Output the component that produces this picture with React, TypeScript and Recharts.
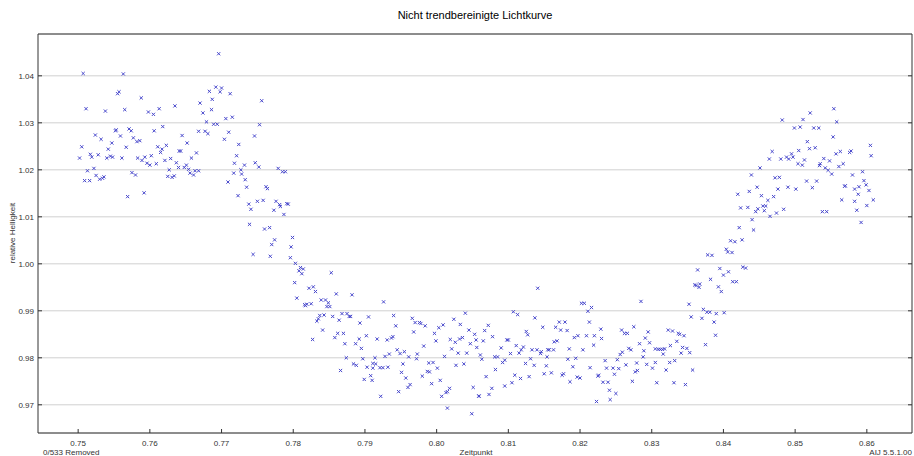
import React from 'react';
import {
  CartesianGrid,
  Scatter,
  ScatterChart,
  XAxis,
  YAxis} from 'recharts';

// Messpunkte [Zeitpunkt, relative Helligkeit], nach Abschnitt der Lichtkurve
const vorTransit: [number, number][] = [
  [0.7507,1.0405],[0.7563,1.0404],[0.7555,1.0362],[0.7557,1.0366],[0.7588,1.0353],[0.7511,1.0330],[0.7538,1.0325],[0.7565,1.0328],
  [0.7598,1.0323],[0.7605,1.0318],[0.7613,1.0330],[0.7635,1.0336],[0.7670,1.0342],[0.7683,1.0367],[0.7687,1.0350],[0.7674,1.0321],
  [0.7686,1.0328],[0.7679,1.0302],[0.7552,1.0283],[0.7553,1.0285],[0.7571,1.0287],[0.7574,1.0283],[0.7606,1.0283],[0.7618,1.0292],
  [0.7524,1.0274],[0.7532,1.0265],[0.7559,1.0272],[0.7577,1.0268],[0.7582,1.0260],[0.7586,1.0262],[0.7547,1.0257],[0.7505,1.0249],
  [0.7542,1.0244],[0.7567,1.0248],[0.7611,1.0249],[0.7617,1.0244],[0.7623,1.0252],[0.7615,1.0237],[0.7641,1.0240],[0.7643,1.0240],
  [0.7652,1.0257],[0.7645,1.0273],[0.7668,1.0282],[0.7677,1.0282],[0.7681,1.0277],[0.7665,1.0236],[0.7502,1.0225],[0.7517,1.0233],
  [0.7519,1.0227],[0.7528,1.0232],[0.7540,1.0225],[0.7545,1.0229],[0.7548,1.0227],[0.7561,1.0225],[0.7583,1.0225],[0.7589,1.0220],
  [0.7593,1.0227],[0.7596,1.0214],[0.7602,1.0230],[0.7600,1.0210],[0.7609,1.0213],[0.7621,1.0220],[0.7629,1.0224],[0.7637,1.0215],
  [0.7640,1.0205],[0.7648,1.0205],[0.7651,1.0210],[0.7654,1.0201],[0.7658,1.0225],[0.7627,1.0200],[0.7656,1.0193],[0.7661,1.0189],
  [0.7663,1.0198],[0.7668,1.0198],[0.7513,1.0198],[0.7522,1.0203],[0.7525,1.0188],[0.7530,1.0180],[0.7534,1.0182],[0.7536,1.0185],
  [0.7509,1.0177],[0.7516,1.0177],[0.7575,1.0194],[0.7580,1.0189],[0.7625,1.0186],[0.7631,1.0184],[0.7634,1.0187],[0.7569,1.0143],
  [0.7592,1.0151],
];

const eintritt: [number, number][] = [
  [0.7696,1.0447],[0.7692,1.0376],[0.7700,1.0374],[0.7698,1.0366],[0.7712,1.0362],[0.7756,1.0347],[0.7706,1.0309],[0.7715,1.0312],
  [0.7689,1.0297],[0.7694,1.0297],[0.7753,1.0296],[0.7710,1.0280],[0.7746,1.0272],[0.7704,1.0265],[0.7724,1.0254],[0.7721,1.0230],
  [0.7718,1.0214],[0.7732,1.0210],[0.7747,1.0215],[0.7752,1.0206],[0.7727,1.0200],[0.7728,1.0191],[0.7717,1.0193],[0.7779,1.0203],
  [0.7785,1.0196],[0.7789,1.0196],[0.7733,1.0179],[0.7709,1.0174],[0.7735,1.0163],[0.7762,1.0164],[0.7764,1.0160],[0.7723,1.0145],
  [0.7738,1.0127],[0.7741,1.0116],[0.7750,1.0133],[0.7758,1.0135],[0.7776,1.0133],[0.7781,1.0126],[0.7782,1.0122],[0.7791,1.0128],
  [0.7793,1.0127],[0.7773,1.0114],[0.7787,1.0105],[0.7739,1.0084],[0.7760,1.0074],[0.7767,1.0077],[0.7774,1.0051],[0.7770,1.0041],
  [0.7799,1.0056],[0.7797,1.0036],[0.7744,1.0020],[0.7768,1.0016],[0.7796,1.0013],[0.7803,1.0001],[0.7810,0.9992],[0.7814,0.9989],
  [0.7808,0.9985],[0.7812,0.9979],[0.7853,0.9981],[0.7802,0.9960],[0.7822,0.9948],[0.7828,0.9951],[0.7831,0.9941],[0.7860,0.9936],
  [0.7805,0.9927],[0.7816,0.9913],[0.7819,0.9914],[0.7825,0.9915],[0.7817,0.9911],[0.7839,0.9923],[0.7845,0.9923],[0.7847,0.9909],
  [0.7851,0.9909],[0.7849,0.9917],[0.7837,0.9890],[0.7843,0.9891],[0.7835,0.9883],[0.7833,0.9878],[0.7855,0.9888],[0.7868,0.9894],
  [0.7864,0.9880],[0.7841,0.9859],[0.7827,0.9839],[0.7858,0.9843],[0.7862,0.9852],[0.7870,0.9852],[0.7872,0.9830],[0.7874,0.9800],
  [0.7866,0.9773],
];

const boden1: [number, number][] = [
  [0.7882,0.9934],[0.7926,0.9919],[0.7875,0.9894],[0.7878,0.9888],[0.7880,0.9888],[0.7893,0.9874],[0.7905,0.9887],[0.7940,0.9890],
  [0.7966,0.9884],[0.7970,0.9875],[0.7976,0.9875],[0.7978,0.9873],[0.7984,0.9868],[0.7943,0.9868],[0.7968,0.9855],[0.7997,0.9852],
  [0.8003,0.9864],[0.8009,0.9870],[0.8024,0.9882],[0.8033,0.9871],[0.8040,0.9895],[0.8045,0.9859],[0.8053,0.9850],[0.7999,0.9836],
  [0.8019,0.9839],[0.8026,0.9833],[0.8032,0.9840],[0.8036,0.9843],[0.8047,0.9830],[0.8055,0.9838],[0.8056,0.9822],[0.7887,0.9830],
  [0.7892,0.9840],[0.7895,0.9820],[0.7902,0.9847],[0.7917,0.9840],[0.7931,0.9838],[0.7937,0.9842],[0.7939,0.9845],[0.7982,0.9825],
  [0.8021,0.9819],[0.8030,0.9810],[0.8042,0.9810],[0.7897,0.9798],[0.7914,0.9800],[0.7928,0.9803],[0.7934,0.9808],[0.7945,0.9817],
  [0.7949,0.9809],[0.7955,0.9813],[0.7961,0.9802],[0.7973,0.9808],[0.7972,0.9798],[0.8011,0.9803],[0.7884,0.9787],[0.7888,0.9784],
  [0.7903,0.9780],[0.7911,0.9788],[0.7915,0.9787],[0.7911,0.9778],[0.7921,0.9779],[0.7925,0.9779],[0.7932,0.9780],[0.7953,0.9787],
  [0.7951,0.9769],[0.7989,0.9789],[0.7995,0.9790],[0.8001,0.9778],[0.7987,0.9771],[0.7990,0.9770],[0.7980,0.9761],[0.8038,0.9787],
  [0.8027,0.9784],[0.7899,0.9754],[0.7908,0.9762],[0.7910,0.9752],[0.7957,0.9757],[0.7963,0.9743],[0.7960,0.9737],[0.7993,0.9745],
  [0.8005,0.9752],[0.8018,0.9735],[0.8015,0.9728],[0.8013,0.9726],[0.8007,0.9718],[0.7947,0.9728],[0.7922,0.9718],[0.8051,0.9737],
  [0.8059,0.9718],[0.8015,0.9693],[0.8049,0.9681],
];

const boden2: [number, number][] = [
  [0.8141,0.9948],[0.8202,0.9916],[0.8206,0.9916],[0.8211,0.9899],[0.8216,0.9907],[0.8107,0.9898],[0.8113,0.9892],[0.8137,0.9885],
  [0.8072,0.9869],[0.8067,0.9858],[0.8078,0.9845],[0.8065,0.9836],[0.8100,0.9838],[0.8098,0.9838],[0.8125,0.9856],[0.8127,0.9849],
  [0.8148,0.9865],[0.8166,0.9865],[0.8171,0.9876],[0.8179,0.9876],[0.8173,0.9859],[0.8182,0.9858],[0.8192,0.9843],[0.8197,0.9847],
  [0.8209,0.9847],[0.8213,0.9876],[0.8229,0.9861],[0.8220,0.9847],[0.8230,0.9841],[0.8219,0.9827],[0.8061,0.9806],[0.8063,0.9797],
  [0.8090,0.9821],[0.8085,0.9802],[0.8081,0.9802],[0.8092,0.9790],[0.8095,0.9795],[0.8103,0.9809],[0.8111,0.9826],[0.8121,0.9823],
  [0.8118,0.9817],[0.8115,0.9810],[0.8133,0.9817],[0.8140,0.9817],[0.8146,0.9813],[0.8145,0.9809],[0.8155,0.9817],[0.8157,0.9817],
  [0.8163,0.9817],[0.8164,0.9834],[0.8168,0.9836],[0.8185,0.9819],[0.8204,0.9817],[0.8154,0.9802],[0.8131,0.9798],[0.8124,0.9788],
  [0.8136,0.9784],[0.8153,0.9783],[0.8183,0.9797],[0.8194,0.9799],[0.8190,0.9781],[0.8214,0.9779],[0.8237,0.9778],[0.8235,0.9794],
  [0.8082,0.9775],[0.8069,0.9760],[0.8109,0.9763],[0.8117,0.9756],[0.8129,0.9760],[0.8150,0.9766],[0.8160,0.9768],[0.8175,0.9763],
  [0.8177,0.9766],[0.8186,0.9749],[0.8196,0.9759],[0.8200,0.9757],[0.8226,0.9763],[0.8225,0.9761],[0.8232,0.9748],[0.8239,0.9748],
  [0.8241,0.9731],[0.8095,0.9740],[0.8105,0.9747],[0.8077,0.9735],[0.8073,0.9722],[0.8059,0.9719],[0.8223,0.9707],[0.8242,0.9711],
];

const austritt: [number, number][] = [
  [0.8420,1.0148],[0.8424,1.0119],[0.8422,1.0077],[0.8410,1.0049],[0.8416,1.0047],[0.8426,1.0051],[0.8404,1.0031],[0.8406,1.0025],
  [0.8412,1.0024],[0.8378,1.0019],[0.8384,1.0018],[0.8427,0.9993],[0.8364,0.9987],[0.8395,0.9990],[0.8407,0.9983],[0.8400,0.9976],
  [0.8382,0.9967],[0.8360,0.9955],[0.8362,0.9954],[0.8367,0.9957],[0.8366,0.9950],[0.8393,0.9951],[0.8397,0.9941],[0.8413,0.9962],
  [0.8418,0.9962],[0.8285,0.9920],[0.8352,0.9914],[0.8372,0.9903],[0.8377,0.9897],[0.8381,0.9897],[0.8390,0.9894],[0.8401,0.9896],
  [0.8355,0.9887],[0.8370,0.9884],[0.8387,0.9876],[0.8275,0.9866],[0.8258,0.9859],[0.8262,0.9852],[0.8266,0.9852],[0.8295,0.9855],
  [0.8323,0.9859],[0.8329,0.9857],[0.8337,0.9852],[0.8339,0.9850],[0.8345,0.9847],[0.8389,0.9848],[0.8291,0.9842],[0.8283,0.9830],
  [0.8297,0.9832],[0.8335,0.9835],[0.8326,0.9826],[0.8268,0.9820],[0.8271,0.9817],[0.8259,0.9812],[0.8256,0.9807],[0.8289,0.9815],
  [0.8288,0.9802],[0.8305,0.9819],[0.8309,0.9818],[0.8312,0.9818],[0.8315,0.9818],[0.8318,0.9819],[0.8316,0.9808],[0.8343,0.9822],
  [0.8349,0.9820],[0.8341,0.9810],[0.8353,0.9811],[0.8375,0.9828],[0.8252,0.9796],[0.8264,0.9785],[0.8279,0.9789],[0.8293,0.9786],
  [0.8305,0.9790],[0.8325,0.9790],[0.8332,0.9794],[0.8246,0.9778],[0.8254,0.9777],[0.8301,0.9778],[0.8277,0.9770],[0.8280,0.9773],
  [0.8320,0.9774],[0.8357,0.9774],[0.8248,0.9765],[0.8273,0.9750],[0.8307,0.9747],[0.8331,0.9747],[0.8347,0.9743],[0.8250,0.9724],
];

const nachTransit: [number, number][] = [
  [0.8554,1.0330],[0.8521,1.0321],[0.8482,1.0306],[0.8511,1.0307],[0.8558,1.0302],[0.8499,1.0289],[0.8507,1.0291],[0.8526,1.0289],
  [0.8533,1.0289],[0.8553,1.0270],[0.8517,1.0260],[0.8520,1.0245],[0.8528,1.0247],[0.8605,1.0252],[0.8606,1.0230],[0.8468,1.0239],
  [0.8464,1.0223],[0.8480,1.0223],[0.8488,1.0227],[0.8491,1.0223],[0.8495,1.0234],[0.8497,1.0227],[0.8505,1.0241],[0.8513,1.0221],
  [0.8504,1.0213],[0.8510,1.0210],[0.8535,1.0213],[0.8534,1.0209],[0.8540,1.0224],[0.8548,1.0219],[0.8557,1.0234],[0.8563,1.0239],
  [0.8576,1.0237],[0.8578,1.0240],[0.8567,1.0213],[0.8561,1.0207],[0.8542,1.0204],[0.8546,1.0199],[0.8551,1.0191],[0.8451,1.0204],
  [0.8439,1.0189],[0.8472,1.0183],[0.8478,1.0184],[0.8516,1.0176],[0.8530,1.0176],[0.8580,1.0189],[0.8594,1.0196],[0.8596,1.0177],
  [0.8599,1.0168],[0.8589,1.0164],[0.8603,1.0156],[0.8583,1.0159],[0.8588,1.0148],[0.8609,1.0136],[0.8570,1.0166],[0.8569,1.0165],
  [0.8447,1.0163],[0.8436,1.0154],[0.8476,1.0159],[0.8490,1.0163],[0.8501,1.0159],[0.8524,1.0162],[0.8453,1.0145],[0.8470,1.0143],
  [0.8462,1.0135],[0.8565,1.0136],[0.8583,1.0133],[0.8600,1.0124],[0.8586,1.0114],[0.8538,1.0111],[0.8544,1.0111],[0.8434,1.0120],
  [0.8448,1.0117],[0.8445,1.0111],[0.8455,1.0123],[0.8459,1.0123],[0.8457,1.0113],[0.8484,1.0116],[0.8474,1.0108],[0.8465,1.0101],
  [0.8440,1.0094],[0.8442,1.0072],[0.8431,0.9991],[0.8592,1.0088],
];

const xTicks = [0.75, 0.76, 0.77, 0.78, 0.79, 0.80, 0.81, 0.82, 0.83, 0.84, 0.85, 0.86];
const yTicks = [0.97, 0.98, 0.99, 1.00, 1.01, 1.02, 1.03, 1.04];

const punkte = [...vorTransit, ...eintritt, ...boden1, ...boden2, ...austritt, ...nachTransit]
  .map(([t, v]) => ({ t, v }));

const xBereich: [number, number] = [0.7444, 0.8663];
const yBereich: [number, number] = [0.964, 1.0489];

const achse = '#333';
const schrift = 'Liberation Sans, Arial, sans-serif';

const Kreuz = (props: any) => {
  const { cx, cy } = props;
  const s = 1.6;
  return (
    <path
      d={`M${cx - s},${cy - s}L${cx + s},${cy + s}M${cx - s},${cy + s}L${cx + s},${cy - s}`}
      stroke="#4848cc"
      strokeWidth={1}
      fill="none"
    />
  );
};

const UntenTick = (props: any) => {
  const { x, y, payload } = props;
  return (
    <g>
      <line x1={x} x2={x} y1={y} y2={y - 4} stroke={achse} />
      <text x={x} y={y + 13} textAnchor="middle" fontSize={8} fill="#333" fontFamily={schrift}>
        {payload.value.toFixed(2)}
      </text>
    </g>
  );
};

const ObenTick = (props: any) => {
  const { x, y } = props;
  return <line x1={x} x2={x} y1={y} y2={y + 4} stroke={achse} />;
};

const LinksTick = (props: any) => {
  const { x, y, payload } = props;
  return (
    <g>
      <line x1={x} x2={x + 4} y1={y} y2={y} stroke={achse} />
      <text x={x - 4} y={y + 3} textAnchor="end" fontSize={8} fill="#333" fontFamily={schrift}>
        {payload.value.toFixed(2)}
      </text>
    </g>
  );
};

const RechtsTick = (props: any) => {
  const { x, y } = props;
  return <line x1={x - 4} x2={x} y1={y} y2={y} stroke={achse} />;
};

export default function App() {
  return (
    <div style={{ position: 'absolute', left: 0, top: 0, width: 914, height: 456, background: '#fff' }}>
      <ScatterChart width={914} height={456} margin={{ top: 33, right: 1, bottom: 22, left: 37 }}>
        <CartesianGrid vertical={false} stroke="#d0d0d0" />
        <XAxis
          type="number"
          dataKey="t"
          domain={xBereich}
          ticks={xTicks}
          interval={0}
          allowDataOverflow
          height={1}
          tickSize={0}
          tickMargin={0}
          axisLine={{ stroke: achse }}
          tickLine={false}
          tick={UntenTick}
        />
        <XAxis
          xAxisId="oben"
          orientation="top"
          type="number"
          domain={xBereich}
          ticks={xTicks}
          interval={0}
          allowDataOverflow
          height={1}
          tickSize={0}
          tickMargin={0}
          axisLine={{ stroke: achse }}
          tickLine={false}
          tick={ObenTick}
        />
        <YAxis
          type="number"
          dataKey="v"
          domain={yBereich}
          ticks={yTicks}
          interval={0}
          allowDataOverflow
          width={1}
          tickSize={0}
          tickMargin={0}
          axisLine={{ stroke: achse }}
          tickLine={false}
          tick={LinksTick}
        />
        <YAxis
          yAxisId="rechts"
          orientation="right"
          type="number"
          domain={yBereich}
          ticks={yTicks}
          interval={0}
          allowDataOverflow
          width={1}
          tickSize={0}
          tickMargin={0}
          axisLine={{ stroke: achse }}
          tickLine={false}
          tick={RechtsTick}
        />
        <Scatter data={punkte} shape={Kreuz} isAnimationActive={false} />
      </ScatterChart>
      <svg
        width={914}
        height={456}
        style={{ position: 'absolute', left: 0, top: 0, pointerEvents: 'none' }}
        fontFamily={schrift}
      >
        <text x={475} y={19} textAnchor="middle" fontSize={11} fill="#000">
          Nicht trendbereinigte Lichtkurve
        </text>
        <text x={15} y={233} textAnchor="middle" fontSize={8} fill="#333" transform="rotate(-90 15 233)">
          relative Helligkeit
        </text>
        <text x={43} y={455} fontSize={8} fill="#333">0/533 Removed</text>
        <text x={476} y={455} textAnchor="middle" fontSize={8} fill="#333">Zeitpunkt</text>
        <text x={912} y={455} textAnchor="end" fontSize={8} fill="#333">AIJ 5.5.1.00</text>
      </svg>
    </div>
  );
}
